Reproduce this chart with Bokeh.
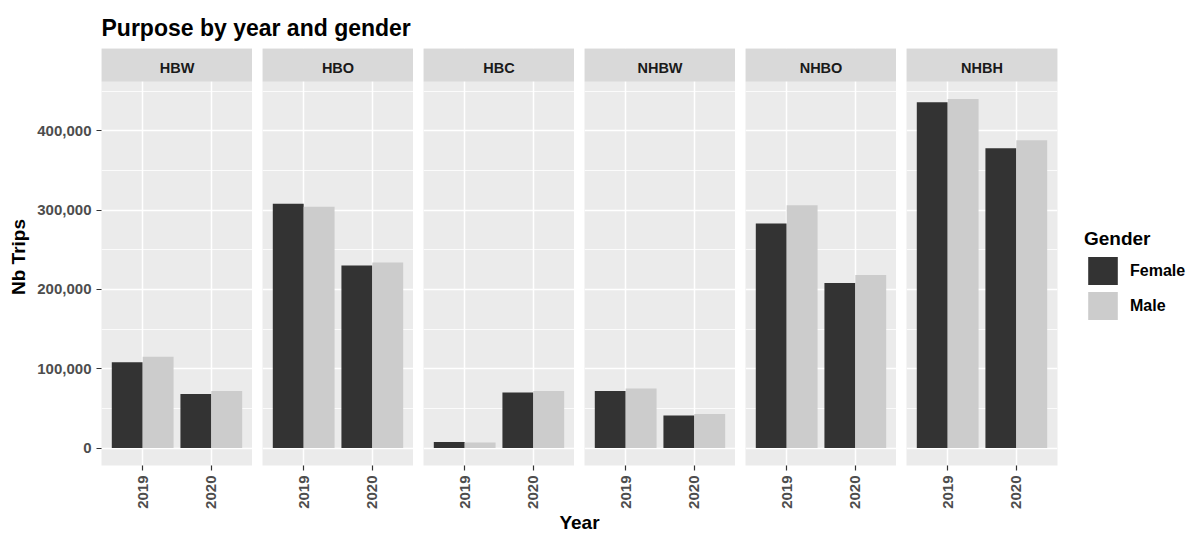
import math
from bokeh.plotting import figure
from bokeh.models import (FactorRange, Range1d, FixedTicker, NumeralTickFormatter,
                          BoxAnnotation, Label, Legend, LegendItem, ColumnDataSource)
from bokeh.layouts import row, column
from bokeh.transform import dodge
from bokeh.embed import file_html
from bokeh.resources import INLINE
from bokeh.core.validation import silence
from bokeh.core.validation.warnings import MISSING_RENDERERS

silence(MISSING_RENDERERS, True)

# ---------------- data ----------------
purposes = ["HBW", "HBO", "HBC", "NHBW", "NHBO", "NHBH"]
years = ["2019", "2020"]
genders = ["Female", "Male"]
female_2019 = [108000, 308000, 7500, 72000, 283000, 436000]
male_2019 = [115000, 304000, 7000, 75000, 306000, 440000]
female_2020 = [68000, 230000, 70000, 41000, 208000, 378000]
male_2020 = [72000, 234000, 72000, 43000, 218000, 388000]
y_ticks = [0, 100000, 200000, 300000, 400000]
y_minor_ticks = [50000, 150000, 250000, 350000, 450000]

title_text = "Purpose by year and gender"
x_title = "Year"
y_title = "Nb Trips"
legend_title = "Gender"

# ---------------- style ----------------
FONT = "Liberation Sans"
FEMALE_COLOR = "#333333"
MALE_COLOR = "#CCCCCC"
PANEL_BG = "#EBEBEB"
STRIP_BG = "#D9D9D9"

TOP_H = 48
PANEL_W = 151
PANEL_H = 384
STRIP_H = 33
GAP = 10
LEFT_BORDER = 101
RIGHT_BORDER = 131
BOTTOM_BORDER = 46
XLAB_H = 533 - TOP_H - PANEL_H - STRIP_H - BOTTOM_BORDER
TOTAL_W = LEFT_BORDER + 6 * PANEL_W + 5 * GAP + RIGHT_BORDER

ymax = max(female_2019 + male_2019 + female_2020 + male_2020)
ylo = -0.05 * ymax
yhi = 1.05 * ymax
px = (yhi - ylo) / PANEL_H
y_end = yhi + STRIP_H * px

ticker = FixedTicker(ticks=y_ticks, minor_ticks=y_minor_ticks)

figs = []
for i, purpose in enumerate(purposes):
    first = i == 0
    last = i == len(purposes) - 1
    src = ColumnDataSource(dict(
        year=years,
        female=[female_2019[i], female_2020[i]],
        male=[male_2019[i], male_2020[i]],
    ))
    p = figure(
        title=None,
        x_range=FactorRange(factors=years, range_padding=0.1,
                            range_padding_units="absolute"),
        y_range=Range1d(ylo, y_end),
        frame_width=PANEL_W, frame_height=PANEL_H + STRIP_H,
        min_border_left=LEFT_BORDER if first else GAP,
        min_border_right=RIGHT_BORDER if last else 0,
        min_border_top=0, min_border_bottom=BOTTOM_BORDER,
        toolbar_location=None, output_backend="svg",
    )
    p.outline_line_color = None
    p.background_fill_color = PANEL_BG
    p.border_fill_color = "white"

    rf = p.vbar(x=dodge("year", -0.225, range=p.x_range), top="female",
                width=0.45, source=src, fill_color=FEMALE_COLOR, line_color=None)
    rm = p.vbar(x=dodge("year", 0.225, range=p.x_range), top="male",
                width=0.45, source=src, fill_color=MALE_COLOR, line_color=None)

    # grid
    p.xgrid.grid_line_color = "white"
    p.xgrid.grid_line_width = 1.5
    p.ygrid.ticker = ticker
    p.ygrid.grid_line_color = "white"
    p.ygrid.grid_line_width = 1.5
    p.ygrid.minor_grid_line_color = "white"
    p.ygrid.minor_grid_line_width = 0.8

    # x axis
    xa = p.xaxis[0]
    xa.axis_line_color = None
    xa.major_tick_line_color = "#333333"
    xa.major_tick_line_width = 1.2
    xa.major_tick_in = 0
    xa.major_tick_out = 5
    xa.minor_tick_line_color = None
    xa.major_label_orientation = math.pi / 2
    xa.major_label_standoff = 5
    xa.major_label_text_font = FONT
    xa.major_label_text_font_style = "bold"
    xa.major_label_text_font_size = "15px"
    xa.major_label_text_color = "#4D4D4D"

    # y axis
    ya = p.yaxis[0]
    ya.ticker = ticker
    if first:
        ya.formatter = NumeralTickFormatter(format="0,0")
        ya.axis_line_color = None
        ya.major_tick_line_color = "#333333"
        ya.major_tick_line_width = 1.2
        ya.major_tick_in = 0
        ya.major_tick_out = 5
        ya.minor_tick_line_color = None
        ya.major_label_standoff = 5
        ya.major_label_text_font = FONT
        ya.major_label_text_font_style = "bold"
        ya.major_label_text_font_size = "15px"
        ya.major_label_text_color = "#4D4D4D"
        ya.axis_label = y_title
        ya.axis_label_text_font = FONT
        ya.axis_label_text_font_style = "bold"
        ya.axis_label_text_font_size = "19px"
        ya.axis_label_text_color = "black"
        ya.axis_label_standoff = 5
    else:
        ya.visible = False

    # facet strip
    p.add_layout(BoxAnnotation(bottom=yhi, fill_color=STRIP_BG, fill_alpha=1,
                               line_color=None))
    p.add_layout(Label(x=1.0, y=(yhi + y_end) / 2 - 2.5 * px, text=purpose,
                       text_align="center", text_baseline="middle",
                       text_font=FONT, text_font_style="bold",
                       text_font_size="14.5px", text_color="#1A1A1A"))

    if last:
        legend = Legend(
            items=[LegendItem(label=genders[0], renderers=[rf]),
                   LegendItem(label=genders[1], renderers=[rm])],
            title=legend_title, location=(27, 142),
            title_text_font=FONT, title_text_font_style="bold",
            title_text_font_size="19px", title_text_color="black",
            title_standoff=3,
            label_text_font=FONT, label_text_font_style="bold",
            label_text_font_size="16px", label_text_color="black",
            glyph_width=37, glyph_height=35, spacing=0, label_standoff=9,
            padding=0, margin=0, border_line_color=None,
            background_fill_alpha=0,
        )
        p.add_layout(legend, "right")
    figs.append(p)

# main title figure
tf = figure(title=None, width=TOTAL_W, height=TOP_H,
            x_range=Range1d(0, TOTAL_W - LEFT_BORDER), y_range=Range1d(0, TOP_H),
            min_border_left=LEFT_BORDER, min_border_right=0,
            min_border_top=0, min_border_bottom=0, toolbar_location=None,
            output_backend="svg", x_axis_location=None, y_axis_location=None)
tf.outline_line_color = None
tf.grid.visible = False
tf.add_layout(Label(x=0, y=21, text=title_text, text_baseline="middle",
                    text_font=FONT, text_font_style="bold", text_font_size="23px",
                    text_color="black"))

# x-axis title figure
inner_w = 6 * PANEL_W + 5 * GAP
bf = figure(title=None, width=TOTAL_W, height=XLAB_H, x_range=Range1d(0, inner_w),
            y_range=Range1d(0, XLAB_H), min_border_left=LEFT_BORDER,
            min_border_right=RIGHT_BORDER, min_border_top=0, min_border_bottom=0,
            toolbar_location=None, output_backend="svg",
            x_axis_location=None, y_axis_location=None)
bf.outline_line_color = None
bf.grid.visible = False
bf.add_layout(Label(x=inner_w / 2, y=XLAB_H / 2, text=x_title, text_align="center",
                    text_baseline="middle", text_font=FONT,
                    text_font_style="bold", text_font_size="19px",
                    text_color="black"))

layout = column(tf, row(*figs, spacing=0), bf, spacing=0)

open("out.html", "w").write(file_html(layout, INLINE))
